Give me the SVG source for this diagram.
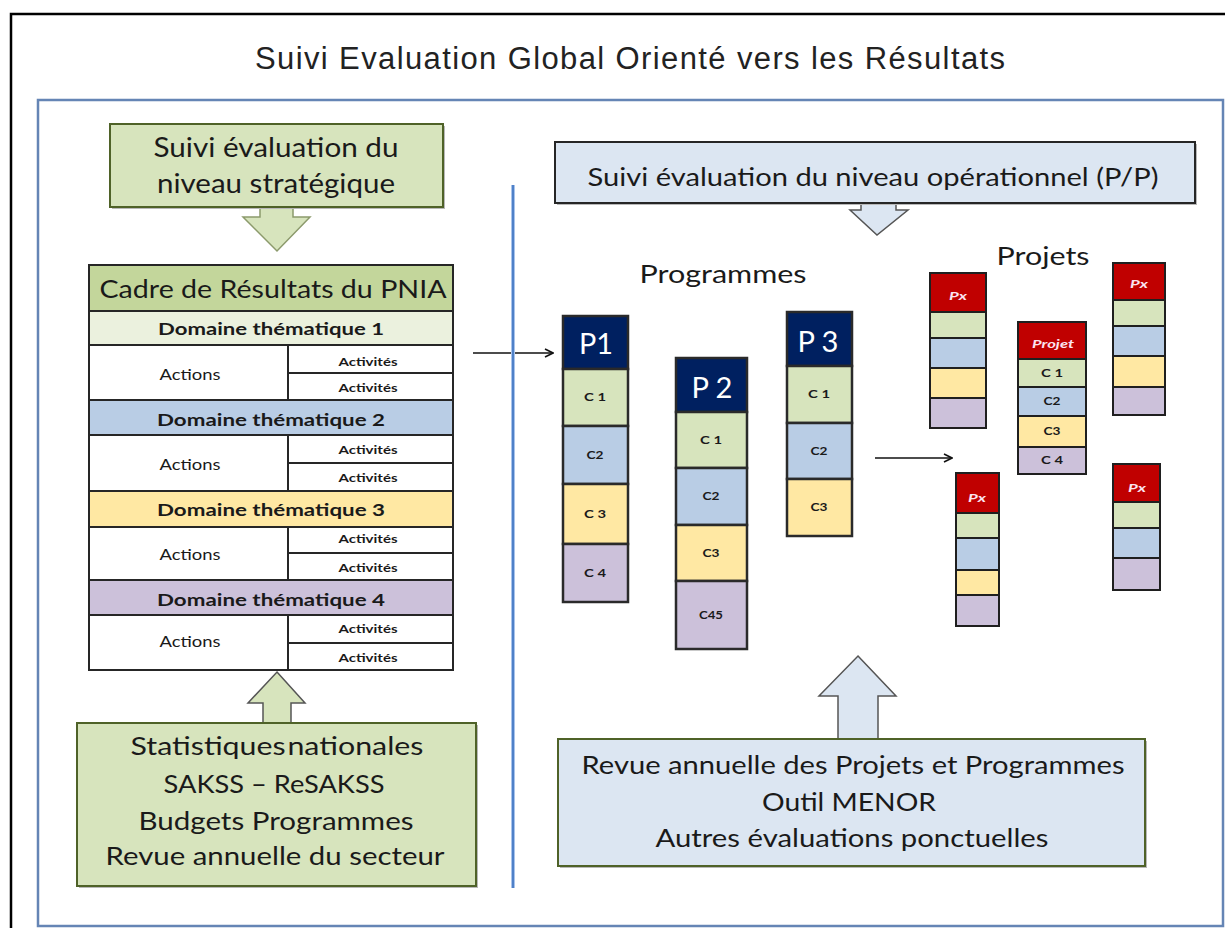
<svg xmlns="http://www.w3.org/2000/svg" width="1225" height="928" viewBox="0 0 1225 928">
<defs>
<style>
.t{font-family:Lato,"Open Sans","Liberation Sans",sans-serif;fill:#1a1a1a}
.title{font-family:"Liberation Sans",Arial,sans-serif;fill:#222;font-size:31px}
.big{font-size:26px}
.dom{font-size:17px;font-weight:bold;fill:#1a1a1a}
.act{font-size:16px}
.acts{font-size:11px;font-weight:bold}
.c{font-size:11px;font-weight:bold}
.ph{font-size:28px;fill:#ffffff}
.px{font-size:11px;font-weight:bold;font-style:italic;fill:#fbe3f0}
.cell{stroke:#262626;stroke-width:2}
.col{stroke:#2a2a2a;stroke-width:2.5}
.pj{stroke:#1f1f1f;stroke-width:2}
.g1{fill:#d7e4bd}.gh{fill:#c3d69b}.gl{fill:#ebf1de}.bl{fill:#b9cde5}.ye{fill:#ffe8a3}.pu{fill:#ccc1da}
.nv{fill:#002060}.rd{fill:#c00000}
.shadow{fill:#b8b8b8}
.conn{stroke:#111;stroke-width:1.6;fill:none}
</style>
<marker id="arr" viewBox="0 0 10 10" refX="9" refY="5" markerWidth="10" markerHeight="10" markerUnits="userSpaceOnUse" orient="auto">
<path d="M1,1 L9,5 L1,9" fill="none" stroke="#111" stroke-width="1.6"/>
</marker>
</defs>
<rect x="0" y="0" width="1225" height="928" fill="#ffffff"/>
<rect x="11" y="14" width="1230" height="930" fill="none" stroke="#000" stroke-width="2.5"/>
<rect id="frame" x="38" y="100" width="1185" height="826" fill="none" stroke="#6585b5" stroke-width="2.5"/>

<g id="title">
<text class="title" x="630" y="69" text-anchor="middle" textLength="750" lengthAdjust="spacing">Suivi Evaluation Global Orienté vers les Résultats</text>
</g>

<g id="connectors">
<path d="M260,206 L293,206 L293,217 L310,217 L277,251 L243,217 L260,217 Z" fill="#d7e4bd" stroke="#8c9a6c" stroke-width="1.5"/>
<path d="M277,672 L305,703 L291,703 L291,723 L263,723 L263,703 L248,703 Z" fill="#d7e4bd" stroke="#555" stroke-width="1.5"/>
<path d="M861,202 L896,202 L896,210 L908,210 L877,235 L850,210 L861,210 Z" fill="#dce6f2" stroke="#555" stroke-width="1.5"/>
<path d="M858,656 L896,696 L878,696 L878,739 L838,739 L838,696 L819,696 Z" fill="#dce6f2" stroke="#555" stroke-width="1.5"/>
<line class="conn" x1="473" y1="353" x2="553" y2="353" marker-end="url(#arr)"/>
<line class="conn" x1="875" y1="458" x2="952" y2="458" marker-end="url(#arr)"/>
</g>

<g id="separator">
<line x1="513" y1="185" x2="513" y2="888" stroke="#a9c4ec" stroke-width="4"/>
<line x1="513" y1="185" x2="513" y2="888" stroke="#4f81c8" stroke-width="2"/>
</g>

<g id="box-strategique">
<rect class="shadow" x="112" y="126" width="333" height="83"/>
<rect x="110" y="124" width="333" height="83" fill="#d7e4bd" stroke="#4f6228" stroke-width="2"/>
<text class="t big" x="276" y="157" text-anchor="middle" textLength="245" lengthAdjust="spacingAndGlyphs">Suivi évaluation du</text>
<text class="t big" x="276" y="193" text-anchor="middle" textLength="238" lengthAdjust="spacingAndGlyphs">niveau stratégique</text>
</g>

<g id="cadre-pnia">
<rect class="cell gh" x="89" y="265" width="364" height="46"/>
<text class="t" x="273" y="298" font-size="25" text-anchor="middle" textLength="347" lengthAdjust="spacingAndGlyphs">Cadre de Résultats du PNIA</text>
<rect class="cell gl" x="89" y="311" width="364" height="34"/>
<text class="t dom" x="271" y="335" text-anchor="middle" textLength="226" lengthAdjust="spacingAndGlyphs">Domaine thématique  1</text>
<rect class="cell" fill="#fff" x="89" y="345" width="364" height="55"/>
<line class="cell" x1="288" y1="345" x2="288" y2="400"/>
<line class="cell" x1="288" y1="373" x2="453" y2="373"/>
<text class="t act" x="190" y="380" text-anchor="middle" textLength="61" lengthAdjust="spacingAndGlyphs">Actions</text>
<text class="t acts" x="368" y="366" text-anchor="middle" textLength="59" lengthAdjust="spacingAndGlyphs">Activités</text>
<text class="t acts" x="368" y="392" text-anchor="middle" textLength="59" lengthAdjust="spacingAndGlyphs">Activités</text>
<rect class="cell bl" x="89" y="400" width="364" height="35"/>
<text class="t dom" x="271" y="426" text-anchor="middle" textLength="228" lengthAdjust="spacingAndGlyphs">Domaine thématique  2</text>
<rect class="cell" fill="#fff" x="89" y="435" width="364" height="56"/>
<line class="cell" x1="288" y1="435" x2="288" y2="491"/>
<line class="cell" x1="288" y1="463" x2="453" y2="463"/>
<text class="t act" x="190" y="470" text-anchor="middle" textLength="61" lengthAdjust="spacingAndGlyphs">Actions</text>
<text class="t acts" x="368" y="454" text-anchor="middle" textLength="59" lengthAdjust="spacingAndGlyphs">Activités</text>
<text class="t acts" x="368" y="482" text-anchor="middle" textLength="59" lengthAdjust="spacingAndGlyphs">Activités</text>
<rect class="cell ye" x="89" y="491" width="364" height="36"/>
<text class="t dom" x="271" y="516" text-anchor="middle" textLength="228" lengthAdjust="spacingAndGlyphs">Domaine thématique  3</text>
<rect class="cell" fill="#fff" x="89" y="527" width="364" height="53"/>
<line class="cell" x1="288" y1="527" x2="288" y2="580"/>
<line class="cell" x1="288" y1="553" x2="453" y2="553"/>
<text class="t act" x="190" y="560" text-anchor="middle" textLength="61" lengthAdjust="spacingAndGlyphs">Actions</text>
<text class="t acts" x="368" y="543" text-anchor="middle" textLength="59" lengthAdjust="spacingAndGlyphs">Activités</text>
<text class="t acts" x="368" y="572" text-anchor="middle" textLength="59" lengthAdjust="spacingAndGlyphs">Activités</text>
<rect class="cell pu" x="89" y="580" width="364" height="35"/>
<text class="t dom" x="271" y="606" text-anchor="middle" textLength="228" lengthAdjust="spacingAndGlyphs">Domaine thématique  4</text>
<rect class="cell" fill="#fff" x="89" y="615" width="364" height="55"/>
<line class="cell" x1="288" y1="615" x2="288" y2="670"/>
<line class="cell" x1="288" y1="643" x2="453" y2="643"/>
<text class="t act" x="190" y="647" text-anchor="middle" textLength="61" lengthAdjust="spacingAndGlyphs">Actions</text>
<text class="t acts" x="368" y="633" text-anchor="middle" textLength="59" lengthAdjust="spacingAndGlyphs">Activités</text>
<text class="t acts" x="368" y="662" text-anchor="middle" textLength="59" lengthAdjust="spacingAndGlyphs">Activités</text>
</g>

<g id="box-sources-strategique">
<rect class="shadow" x="79" y="725" width="399" height="163"/>
<rect x="77" y="723" width="399" height="163" fill="#d7e4bd" stroke="#4f6228" stroke-width="2"/>
<text class="t" font-size="25" x="277" y="755" text-anchor="middle" textLength="293" lengthAdjust="spacingAndGlyphs" word-spacing="-5">Statistiques nationales</text>
<text class="t" font-size="25" x="274" y="793" text-anchor="middle" textLength="221" lengthAdjust="spacingAndGlyphs">SAKSS – ReSAKSS</text>
<text class="t" font-size="25" x="276" y="830" text-anchor="middle" textLength="275" lengthAdjust="spacingAndGlyphs">Budgets Programmes</text>
<text class="t" font-size="25" x="275" y="865" text-anchor="middle" textLength="339" lengthAdjust="spacingAndGlyphs">Revue annuelle du secteur</text>
</g>

<g id="box-operationnel">
<rect class="shadow" x="557" y="144" width="640" height="61"/>
<rect x="555" y="142" width="640" height="61" fill="#dce6f2" stroke="#262626" stroke-width="2"/>
<text class="t" font-size="25" x="873" y="186" text-anchor="middle" textLength="571" lengthAdjust="spacingAndGlyphs">Suivi évaluation du niveau opérationnel (P/P)</text>
</g>

<g id="label-programmes">
<text class="t" font-size="25" x="723" y="283" text-anchor="middle" textLength="167" lengthAdjust="spacingAndGlyphs">Programmes</text>
</g>
<g id="label-projets">
<text class="t" font-size="25" x="1043" y="265" text-anchor="middle" textLength="93" lengthAdjust="spacingAndGlyphs">Projets</text>
</g>

<g id="P1">
<rect class="col nv" x="563" y="316" width="65" height="53"/>
<rect class="col g1" x="563" y="369" width="65" height="57"/>
<rect class="col bl" x="563" y="426" width="65" height="58"/>
<rect class="col ye" x="563" y="484" width="65" height="60"/>
<rect class="col pu" x="563" y="544" width="65" height="58"/>
<text class="t ph" x="596" y="354" text-anchor="middle" textLength="34" lengthAdjust="spacingAndGlyphs">P1</text>
<text class="t c" x="595" y="401" text-anchor="middle" textLength="22" lengthAdjust="spacingAndGlyphs">C 1</text>
<text class="t c" x="595" y="459" text-anchor="middle" textLength="17" lengthAdjust="spacingAndGlyphs">C2</text>
<text class="t c" x="595" y="518" text-anchor="middle" textLength="22" lengthAdjust="spacingAndGlyphs">C 3</text>
<text class="t c" x="595" y="577" text-anchor="middle" textLength="22" lengthAdjust="spacingAndGlyphs">C 4</text>
</g>

<g id="P2">
<rect class="col nv" x="676" y="358" width="71" height="54"/>
<rect class="col g1" x="676" y="412" width="71" height="56"/>
<rect class="col bl" x="676" y="468" width="71" height="57"/>
<rect class="col ye" x="676" y="525" width="71" height="56"/>
<rect class="col pu" x="676" y="581" width="71" height="68"/>
<text class="t ph" x="712" y="398" text-anchor="middle" textLength="41" lengthAdjust="spacingAndGlyphs">P 2</text>
<text class="t c" x="711" y="444" text-anchor="middle" textLength="22" lengthAdjust="spacingAndGlyphs">C 1</text>
<text class="t c" x="711" y="500" text-anchor="middle" textLength="17" lengthAdjust="spacingAndGlyphs">C2</text>
<text class="t c" x="711" y="557" text-anchor="middle" textLength="17" lengthAdjust="spacingAndGlyphs">C3</text>
<text class="t c" x="711" y="619" text-anchor="middle" textLength="24" lengthAdjust="spacingAndGlyphs">C45</text>
</g>

<g id="P3">
<rect class="col nv" x="787" y="312" width="65" height="54"/>
<rect class="col g1" x="787" y="366" width="65" height="57"/>
<rect class="col bl" x="787" y="423" width="65" height="56"/>
<rect class="col ye" x="787" y="479" width="65" height="57"/>
<text class="t ph" x="818" y="352" text-anchor="middle" textLength="41" lengthAdjust="spacingAndGlyphs">P 3</text>
<text class="t c" x="819" y="398" text-anchor="middle" textLength="22" lengthAdjust="spacingAndGlyphs">C 1</text>
<text class="t c" x="819" y="455" text-anchor="middle" textLength="17" lengthAdjust="spacingAndGlyphs">C2</text>
<text class="t c" x="819" y="511" text-anchor="middle" textLength="17" lengthAdjust="spacingAndGlyphs">C3</text>
</g>

<g id="projet-a">
<rect class="pj rd" x="930" y="273" width="56" height="39"/>
<rect class="pj g1" x="930" y="312" width="56" height="26"/>
<rect class="pj bl" x="930" y="338" width="56" height="30"/>
<rect class="pj ye" x="930" y="368" width="56" height="30"/>
<rect class="pj pu" x="930" y="398" width="56" height="30"/>
<text class="t px" x="958" y="300" text-anchor="middle" textLength="18" lengthAdjust="spacingAndGlyphs">Px</text>
</g>

<g id="projet-central">
<rect class="pj rd" x="1018" y="322" width="68" height="37"/>
<rect class="pj g1" x="1018" y="359" width="68" height="28"/>
<rect class="pj bl" x="1018" y="387" width="68" height="29"/>
<rect class="pj ye" x="1018" y="416" width="68" height="31"/>
<rect class="pj pu" x="1018" y="447" width="68" height="27"/>
<text class="t px" x="1053" y="348" text-anchor="middle" textLength="42" lengthAdjust="spacingAndGlyphs">Projet</text>
<text class="t c" x="1052" y="377" text-anchor="middle" textLength="22" lengthAdjust="spacingAndGlyphs">C 1</text>
<text class="t c" x="1052" y="405" text-anchor="middle" textLength="17" lengthAdjust="spacingAndGlyphs">C2</text>
<text class="t c" x="1052" y="435" text-anchor="middle" textLength="17" lengthAdjust="spacingAndGlyphs">C3</text>
<text class="t c" x="1052" y="464" text-anchor="middle" textLength="22" lengthAdjust="spacingAndGlyphs">C 4</text>
</g>

<g id="projet-b">
<rect class="pj rd" x="1113" y="263" width="52" height="37"/>
<rect class="pj g1" x="1113" y="300" width="52" height="26"/>
<rect class="pj bl" x="1113" y="326" width="52" height="30"/>
<rect class="pj ye" x="1113" y="356" width="52" height="31"/>
<rect class="pj pu" x="1113" y="387" width="52" height="28"/>
<text class="t px" x="1139" y="288" text-anchor="middle" textLength="18" lengthAdjust="spacingAndGlyphs">Px</text>
</g>

<g id="projet-c">
<rect class="pj rd" x="956" y="473" width="43" height="40"/>
<rect class="pj g1" x="956" y="513" width="43" height="25"/>
<rect class="pj bl" x="956" y="538" width="43" height="32"/>
<rect class="pj ye" x="956" y="570" width="43" height="25"/>
<rect class="pj pu" x="956" y="595" width="43" height="31"/>
<text class="t px" x="977" y="502" text-anchor="middle" textLength="18" lengthAdjust="spacingAndGlyphs">Px</text>
</g>

<g id="projet-d">
<rect class="pj rd" x="1113" y="464" width="47" height="38"/>
<rect class="pj g1" x="1113" y="502" width="47" height="26"/>
<rect class="pj bl" x="1113" y="528" width="47" height="30"/>
<rect class="pj pu" x="1113" y="558" width="47" height="32"/>
<text class="t px" x="1137" y="492" text-anchor="middle" textLength="18" lengthAdjust="spacingAndGlyphs">Px</text>
</g>

<g id="box-sources-operationnel">
<rect class="shadow" x="560" y="741" width="587" height="127"/>
<rect x="558" y="739" width="587" height="127" fill="#dce6f2" stroke="#4f6228" stroke-width="2"/>
<text class="t" font-size="25" x="853" y="774" text-anchor="middle" textLength="543" lengthAdjust="spacingAndGlyphs">Revue annuelle des Projets et Programmes</text>
<text class="t" font-size="25" x="849" y="811" text-anchor="middle" textLength="174" lengthAdjust="spacingAndGlyphs">Outil MENOR</text>
<text class="t" font-size="25" x="852" y="847" text-anchor="middle" textLength="393" lengthAdjust="spacingAndGlyphs">Autres évaluations ponctuelles</text>
</g>
</svg>
